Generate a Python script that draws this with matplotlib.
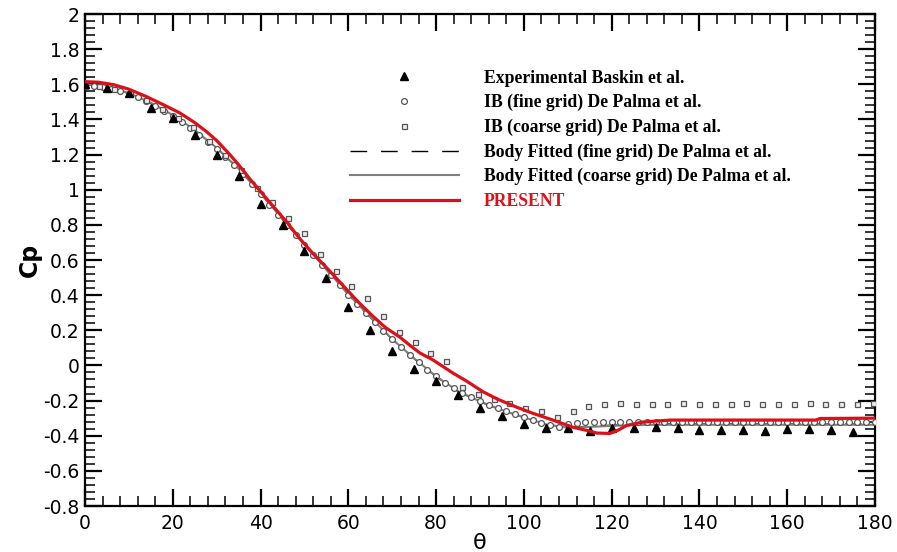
import matplotlib
matplotlib.use('Agg')
import matplotlib.pyplot as plt
from matplotlib.ticker import MultipleLocator, FuncFormatter

plt.rcParams['axes.unicode_minus'] = False

# 实验数据 Baskin et al.
theta_exp = [0, 5, 10, 15, 20, 25, 30, 35, 40, 45, 50, 55, 60, 65, 70, 75, 80, 85,
             90, 95, 100, 105, 110, 115, 120, 125, 130, 135, 140, 145, 150, 155,
             160, 165, 170, 175]
cp_exp = [1.60, 1.58, 1.55, 1.465, 1.41, 1.31, 1.20, 1.08, 0.92, 0.80, 0.65, 0.50,
          0.33, 0.20, 0.08, -0.02, -0.09, -0.17, -0.245, -0.29, -0.333, -0.356,
          -0.358, -0.373, -0.356, -0.356, -0.35, -0.356, -0.366, -0.367, -0.367,
          -0.373, -0.362, -0.362, -0.367, -0.379]

# IB 细网格 De Palma et al.
theta_ib_fine = [0, 2, 4, 6, 8, 10, 12, 14, 16, 18, 20, 22, 24, 26, 28, 30, 32, 34,
                 36, 38, 40, 42, 44, 46, 48, 50, 52, 54, 56, 58, 60, 62, 64, 66, 68,
                 70, 72, 74, 76, 78, 80, 82, 84, 86, 88, 90, 92, 94, 96, 98, 100,
                 102, 104, 106, 108, 110, 112, 114, 116, 118, 120, 122, 124, 126,
                 128, 130, 132, 134, 136, 138, 140, 142, 144, 146, 148, 150, 152,
                 154, 156, 158, 160, 162, 164, 166, 168, 170, 172, 174, 176, 178, 180]
cp_ib_fine = [1.595, 1.592, 1.585, 1.576, 1.562, 1.546, 1.526, 1.503, 1.478, 1.450,
              1.420, 1.387, 1.352, 1.314, 1.274, 1.232, 1.186, 1.138, 1.088, 1.034,
              0.976, 0.915, 0.858, 0.800, 0.743, 0.688, 0.630, 0.573, 0.516, 0.458,
              0.403, 0.350, 0.298, 0.248, 0.198, 0.150, 0.104, 0.060, 0.018, -0.024,
              -0.062, -0.098, -0.131, -0.158, -0.182, -0.204, -0.224, -0.244, -0.262,
              -0.279, -0.295, -0.311, -0.327, -0.341, -0.349, -0.335, -0.325, -0.322,
              -0.322, -0.323, -0.322, -0.321, -0.322, -0.322, -0.323, -0.322, -0.322,
              -0.321, -0.322, -0.322, -0.323, -0.322, -0.322, -0.321, -0.322, -0.322,
              -0.323, -0.322, -0.322, -0.321, -0.322, -0.322, -0.323, -0.322, -0.322,
              -0.321, -0.322, -0.322, -0.323, -0.322, -0.322]

# IB 粗网格 De Palma et al.
theta_ib_coarse = [0.0, 3.1, 6.7, 10.3, 13.9, 17.5, 21.1, 24.7, 28.3, 31.9, 35.5, 39.1,
                   42.7, 46.3, 49.9, 53.5, 57.1, 60.7, 64.3, 67.9, 71.5, 75.1, 78.7,
                   82.3, 85.9, 89.5, 93.1, 96.7, 100.3, 103.9, 107.5, 111.1, 114.7,
                   118.3, 121.9, 125.5, 129.1, 132.7, 136.3, 139.9, 143.5, 147.1,
                   150.7, 154.3, 157.9, 161.5, 165.1, 168.7, 172.3, 175.9, 179.5]
cp_ib_coarse = [1.59, 1.59, 1.575, 1.55, 1.51, 1.46, 1.41, 1.355, 1.28, 1.20, 1.11,
                1.01, 0.93, 0.84, 0.754, 0.636, 0.537, 0.452, 0.382, 0.284, 0.193,
                0.133, 0.07, 0.025, -0.123, -0.16, -0.19, -0.214, -0.245, -0.26,
                -0.293, -0.26, -0.23, -0.218, -0.216, -0.218, -0.217, -0.218, -0.216,
                -0.218, -0.217, -0.218, -0.216, -0.218, -0.217, -0.218, -0.216,
                -0.218, -0.217, -0.218, -0.216]

# 贴体网格 (细/粗)
theta_bf = [0, 5, 10, 15, 20, 25, 30, 35, 40, 45, 50, 55, 60, 65, 70, 75, 80, 85, 90,
            95, 100, 105, 110, 115, 120, 125, 130, 135, 140, 145, 150, 155, 160, 165,
            170, 175, 180]
cp_bf_fine = [1.598, 1.584, 1.548, 1.493, 1.423, 1.338, 1.236, 1.118, 0.978, 0.831,
              0.688, 0.544, 0.403, 0.273, 0.148, 0.038, -0.064, -0.148, -0.207,
              -0.256, -0.297, -0.337, -0.352, -0.347, -0.340, -0.336, -0.334, -0.334,
              -0.334, -0.334, -0.334, -0.334, -0.334, -0.334, -0.334, -0.334, -0.334]
cp_bf_coarse = [1.600, 1.586, 1.550, 1.495, 1.425, 1.340, 1.238, 1.120, 0.980, 0.833,
                0.690, 0.546, 0.405, 0.275, 0.150, 0.040, -0.062, -0.146, -0.205,
                -0.254, -0.295, -0.335, -0.354, -0.350, -0.344, -0.340, -0.338,
                -0.338, -0.338, -0.338, -0.338, -0.338, -0.338, -0.338, -0.338,
                -0.338, -0.338]

# 本文计算结果
theta_present = [0, 3, 6.5, 10, 14, 18, 21.6, 25, 27.7, 30, 33, 35, 37.6, 40, 42.1,
                 43.7, 46, 49, 52, 55.1, 57.5, 59.7, 62.5, 65.6, 68.5, 71.8, 74, 76.3,
                 79.3, 81.5, 83.8, 87, 90.7, 94, 98.3, 102, 106.6, 111.2, 114.4, 116.6,
                 119.6, 121.5, 123.4, 127.1, 133.3, 166.5, 167.5, 180]
cp_present = [1.615, 1.612, 1.598, 1.572, 1.530, 1.482, 1.437, 1.382, 1.330, 1.280,
              1.200, 1.142, 1.060, 0.990, 0.928, 0.882, 0.815, 0.720, 0.635, 0.555,
              0.490, 0.430, 0.355, 0.280, 0.215, 0.160, 0.115, 0.071, 0.031, -0.005,
              -0.043, -0.090, -0.150, -0.192, -0.237, -0.272, -0.311, -0.352, -0.370,
              -0.385, -0.387, -0.368, -0.342, -0.322, -0.311, -0.311, -0.302, -0.300]

red = '#dc1018'

fig = plt.figure(figsize=(8.97, 5.52), dpi=100)
ax = fig.add_axes([85 / 897, 46 / 552, 790 / 897, 492 / 552])

ax.plot(theta_exp, cp_exp, linestyle='none', marker='^', ms=5.5, color='black',
        label='Experimental Baskin et al.', zorder=4)
ax.plot(theta_ib_fine, cp_ib_fine, linestyle='none', marker='o', ms=4.2,
        mfc='white', mec='#555555', mew=0.9, label='IB (fine grid) De Palma et al.',
        zorder=3)
ax.plot(theta_ib_coarse, cp_ib_coarse, linestyle='none', marker='s', ms=3.6,
        mfc='#eeeeee', mec='#555555', mew=0.9,
        label='IB (coarse grid) De Palma et al.', zorder=3)
ax.plot(theta_bf, cp_bf_fine, color='black', lw=1.0, linestyle=(0, (12, 10)),
        label='Body Fitted (fine grid) De Palma et al.', zorder=2)
ax.plot(theta_bf, cp_bf_coarse, color='#808080', lw=1.5,
        label='Body Fitted (coarse grid) De Palma et al.', zorder=2)
ax.plot(theta_present, cp_present, color=red, lw=2.3, label='PRESENT', zorder=5)

ax.set_xlim(0, 180)
ax.set_ylim(-0.8, 2.0)
ax.xaxis.set_major_locator(MultipleLocator(20))
ax.xaxis.set_minor_locator(MultipleLocator(4))
ax.yaxis.set_major_locator(MultipleLocator(0.2))
ax.yaxis.set_minor_locator(MultipleLocator(0.04))
ax.yaxis.set_major_formatter(FuncFormatter(lambda v, p: '%g' % (round(v, 2) + 0.0)))

ax.tick_params(which='both', direction='in', top=True, right=True)
ax.tick_params(which='major', length=12, width=1.6, labelsize=13.5)
ax.tick_params(which='minor', length=7.5, width=1.1)
ax.tick_params(axis='x', which='major', pad=6)
ax.tick_params(axis='y', which='major', pad=4)
for sp in ax.spines.values():
    sp.set_linewidth(1.6)

ax.set_ylabel('Cp', fontsize=17, fontweight='bold', labelpad=1)
ax.set_xlabel('θ', fontsize=16, labelpad=0)

leg = ax.legend(loc='upper left', bbox_to_anchor=(0.335, 0.887), frameon=False,
                borderpad=0, borderaxespad=0, handlelength=6.2, handletextpad=1.4,
                labelspacing=0.42,
                prop={'family': 'Liberation Serif', 'weight': 'bold', 'size': 12.7})
leg.get_texts()[5].set_color(red)

fig.savefig('out.png', dpi=100)
